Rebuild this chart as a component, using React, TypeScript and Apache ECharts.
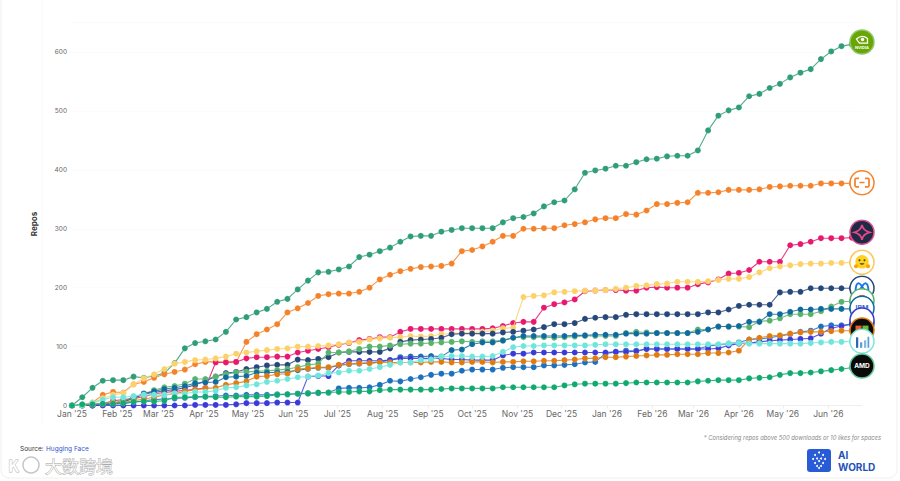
import React, { useEffect, useRef } from "react";
import * as echarts from "echarts";

const startDay = Date.UTC(2025, 0, 1);
const weekCount = 78;
const weeks: number[] = [];
for (let i = 0; i < weekCount; i++) weeks.push(startDay + i * 7 * 86400000);

const monthTicks = [
  [2025, 0], [2025, 1], [2025, 2], [2025, 3], [2025, 4], [2025, 5], [2025, 6], [2025, 7], [2025, 8],
  [2025, 9], [2025, 10], [2025, 11], [2026, 0], [2026, 1], [2026, 2], [2026, 3], [2026, 4], [2026, 5],
].map(([y, m]) => Date.UTC(y, m, 1));
const monthNames = ["Jan", "Feb", "Mar", "Apr", "May", "Jun", "Jul", "Aug", "Sep", "Oct", "Nov", "Dec"];

const nvidia = [0,14,30,42,43,43,49,47,50,55,72,97,106,109,112,125,146,150,158,164,176,181,197,212,226,227,231,236,252,256,262,268,278,287,288,288,295,298,301,301,301,301,311,318,320,326,338,345,348,367,395,399,402,407,407,413,418,419,423,424,424,433,467,492,501,506,525,529,539,546,557,565,571,588,601,610,613,617];
const alibaba = [0,1,5,18,23,22,36,40,47,53,57,61,70,74,74,74,74,108,121,129,138,158,165,174,186,189,190,190,193,200,214,222,228,232,235,236,237,241,262,264,270,278,288,288,300,300,301,301,306,308,311,316,318,318,325,324,331,342,342,344,345,361,361,362,366,366,366,367,371,372,373,373,373,377,377,377,377,378];
const pink = [0,0,1,3,8,10,12,15,20,22,24,26,27,30,73,73,74,80,82,82,83,83,90,93,96,99,103,106,111,113,116,116,125,130,130,130,130,130,130,130,130,131,135,140,142,142,166,172,175,180,194,195,196,196,195,195,200,201,200,200,200,206,209,214,224,225,230,244,244,244,272,274,278,284,284,284,285,294];
const huggingFace = [0,1,5,12,18,21,36,46,53,62,71,74,77,78,80,83,88,90,92,94,96,97,100,100,101,102,104,107,108,112,114,115,116,118,117,118,121,122,123,124,125,127,131,132,184,186,187,192,193,194,195,195,196,198,200,203,204,206,207,210,210,210,211,213,215,215,218,226,233,236,238,240,241,241,242,242,243,243];
const meta = [0,0,0,1,3,6,14,20,22,25,27,30,35,42,49,55,57,62,65,68,69,69,78,77,79,82,90,91,91,91,91,97,108,111,112,113,115,121,122,122,122,122,124,125,127,129,133,138,138,140,147,149,150,150,154,155,155,155,155,155,155,155,158,158,163,169,171,171,171,192,193,193,199,199,199,199,199,199];
const google = [0,0,1,3,5,8,12,20,26,31,33,37,45,45,49,53,56,57,58,59,60,62,65,69,71,90,90,92,96,100,100,102,104,105,105,106,107,108,109,108,109,109,111,115,116,116,116,115,116,117,118,118,118,118,123,125,124,123,123,123,123,129,129,134,134,134,133,143,144,148,155,155,155,160,168,176,177,178];
const ibm = [0,0,0,1,3,6,12,20,24,28,30,33,38,39,40,48,49,50,56,56,56,57,60,62,64,64,68,70,71,72,74,77,82,83,83,84,83,94,95,104,107,107,110,115,118,118,118,118,118,119,119,120,120,120,122,122,122,123,123,123,123,125,129,134,134,135,142,142,155,155,159,163,163,164,164,164,164,165];
const blue = [0,0,0,1,2,3,6,8,10,11,12,13,14,15,16,17,17,18,18,18,19,19,20,21,21,22,29,30,30,31,35,42,41,45,48,52,54,54,59,61,61,61,64,65,65,65,68,68,69,70,73,74,88,91,93,93,96,96,96,96,96,96,101,103,105,107,112,113,115,118,121,125,127,134,136,136,138,140];
const indigo = [0,0,0,0,0,0,0,0,0,0,0,0,1,1,1,1,2,4,4,4,5,5,5,49,50,50,68,76,76,76,76,77,80,80,80,80,80,78,78,77,77,77,85,88,88,90,90,90,90,90,90,90,90,91,91,92,96,96,96,96,96,96,96,97,102,105,106,108,110,111,112,113,114,122,131,135,138,145];
const microsoft = [0,0,2,3,4,5,8,11,14,18,20,24,27,29,30,35,38,41,49,50,53,54,62,63,65,65,69,71,72,72,73,73,73,73,73,74,74,73,73,74,74,73,74,74,75,75,76,76,77,78,80,80,82,82,83,84,85,86,86,87,87,87,89,89,90,93,112,115,118,119,122,124,125,125,126,127,127,128];
const cyan = [0,0,4,10,14,14,16,18,18,18,20,20,23,23,25,30,31,34,36,40,42,45,48,49,51,55,56,59,59,62,65,69,73,73,77,78,83,84,84,83,83,84,91,99,101,101,102,102,102,102,102,103,104,104,104,104,104,104,104,104,104,104,104,104,105,106,105,105,105,105,105,105,106,107,108,108,109,109];
const amd = [0,2,2,3,3,4,6,7,7,8,14,14,15,15,14,14,15,15,15,16,18,19,20,20,22,22,23,23,24,24,26,27,27,27,27,27,28,29,29,29,29,29,31,31,31,31,31,31,34,36,37,37,37,37,38,39,39,39,39,39,39,41,42,43,43,43,46,47,48,52,55,55,56,58,60,62,64,67];

const logo = (border: string, fill: string, inner = "") => {
  const svg = `<svg xmlns="http://www.w3.org/2000/svg" width="104" height="104" viewBox="0 0 104 104"><circle cx="52" cy="52" r="48" fill="${fill}" stroke="${border}" stroke-width="6"/>${inner}</svg>`;
  return "image://data:image/svg+xml;charset=utf-8," + encodeURIComponent(svg);
};

const logos: Record<string, string> = {
  nvidia: logo("#8ec86a", "#6aa506", `<path d="M30 40 Q52 20 74 38 L74 56 L42 56 Q34 48 30 40Z" fill="none" stroke="#fff" stroke-width="5"/><circle cx="54" cy="42" r="7" fill="#fff"/>`),
  alibaba: logo("#f5822a", "#ffffff", `<path d="M40 34 H28 Q24 34 24 40 V62 Q24 68 28 68 H40 M64 34 H76 Q80 34 80 40 V62 Q80 68 76 68 H64" fill="none" stroke="#f5822a" stroke-width="7"/><path d="M42 51 H62" stroke="#f5822a" stroke-width="6"/>`),
  pink: logo("#e0508f", "#1e2b45", `<path d="M52 22 Q56 44 82 52 Q56 58 52 82 Q48 58 22 52 Q48 44 52 22Z" fill="none" stroke="#e8468a" stroke-width="7"/>`),
  huggingFace: logo("#fbc75a", "#ffffff", `<circle cx="52" cy="50" r="27" fill="#ffd21e"/><circle cx="42" cy="44" r="4" fill="#3a3b45"/><circle cx="62" cy="44" r="4" fill="#3a3b45"/><path d="M42 56 Q52 68 62 56Z" fill="#3a3b45"/><circle cx="28" cy="68" r="8" fill="#ff9d0b"/><circle cx="76" cy="68" r="8" fill="#ff9d0b"/>`),
  meta: logo("#26477a", "#ffffff", `<path d="M26 70 Q26 32 38 32 Q48 32 66 70 M78 70 Q78 32 66 32 Q56 32 38 70" fill="none" stroke="#1877e6" stroke-width="8"/>`),
  google: logo("#57b36a", "#ffffff", `<path d="M18 50 Q52 8 86 50 L72 54 Q52 32 32 54Z" fill="#e4483a"/>`),
  ibm: logo("#0f6a9e", "#ffffff", ""),
  blue: logo("#1d6fc0", "#ffffff", ""),
  indigo: logo("#3a3ad8", "#ffffff", ""),
  microsoft: logo("#e07b10", "#0c0c0c", `<rect x="26" y="34" width="24" height="24" fill="#ef5b2b"/><rect x="54" y="34" width="24" height="24" fill="#6cbb2e"/><rect x="26" y="62" width="24" height="14" fill="#222"/>`),
  cyan: logo("#7ae6dc", "#ffffff", `<rect x="28" y="36" width="9" height="42" fill="#2f66b8"/><rect x="44" y="56" width="9" height="22" fill="#5aa0d8"/><rect x="60" y="48" width="9" height="30" fill="#86b8dc"/><rect x="74" y="34" width="7" height="44" fill="#5aa0d8"/>`),
  amd: logo("#5fc89a", "#0a0a0a", ""),
};

type Def = { name: string; values: number[]; color: string; logo: string; text?: string; textColor?: string; textSize?: number; offset?: number[] };
const seriesDefs: Def[] = [
  { name: "NVIDIA", values: nvidia, color: "#2f9e76", logo: logos.nvidia, text: "NVIDIA", textColor: "#fff", textSize: 4, offset: [0, 5] },
  { name: "Alibaba", values: alibaba, color: "#f5822a", logo: logos.alibaba },
  { name: "Tencent", values: pink, color: "#e8176f", logo: logos.pink },
  { name: "Hugging Face", values: huggingFace, color: "#fcd16a", logo: logos.huggingFace },
  { name: "Meta", values: meta, color: "#26477a", logo: logos.meta },
  { name: "Google", values: google, color: "#57b36a", logo: logos.google },
  { name: "IBM", values: ibm, color: "#0f6a9e", logo: logos.ibm, text: "IBM", textColor: "#3a6fc0", textSize: 7 },
  { name: "Blue", values: blue, color: "#1d6fc0", logo: logos.blue },
  { name: "Indigo", values: indigo, color: "#3a3ad8", logo: logos.indigo },
  { name: "Microsoft", values: microsoft, color: "#e07b10", logo: logos.microsoft },
  { name: "Cyan", values: cyan, color: "#6fe6dc", logo: logos.cyan },
  { name: "AMD", values: amd, color: "#10a96e", logo: logos.amd, text: "AMD", textColor: "#fff", textSize: 6.5 },
];

const yTop = 22.6;
const yBottom = 405.5;

export default function App() {
  const ref = useRef<HTMLDivElement>(null);
  useEffect(() => {
    const chart = echarts.init(ref.current!, undefined, { renderer: "svg" });
    const series = seriesDefs.map((d, si) => ({
      name: d.name,
      type: "line",
      z: 2 + si,
      clip: false,
      showAllSymbol: true,
      symbol: "circle",
      symbolSize: 6,
      lineStyle: { color: d.color, width: 1.1, opacity: 0.85 },
      itemStyle: { color: d.color, borderColor: "rgba(255,255,255,0.35)", borderWidth: 0.4 },
      data: d.values.map((v, i) =>
        i === d.values.length - 1
          ? {
              value: [weeks[i], v],
              symbol: d.logo,
              symbolSize: 26,
              label: d.text
                ? {
                    show: true,
                    position: "inside",
                    formatter: d.text,
                    color: d.textColor,
                    fontSize: d.textSize,
                    fontWeight: "bold",
                    fontFamily: "Inter",
                    offset: d.offset || [0, 0],
                  }
                : { show: false },
            }
          : [weeks[i], v]
      ),
    }));

    const brainDots = [
      [819, 452.5], [815, 455], [823, 455], [813, 459], [817, 458.5], [821, 458.5], [825, 459],
      [815, 463], [819, 461], [823, 463], [817, 466], [821, 466], [819, 468],
    ];

    chart.setOption({
      animation: false,
      backgroundColor: "#ffffff",
      textStyle: { fontFamily: "Inter" },
      grid: { left: 72, right: 38, top: yTop, bottom: 481 - yBottom, containLabel: false },
      xAxis: {
        type: "value",
        min: weeks[0],
        max: weeks[weekCount - 1],
        splitLine: { show: false },
        axisLine: { show: true, lineStyle: { color: "#eeeeee", width: 1 } },
        axisTick: { show: true, length: 3, lineStyle: { color: "#eeeeee" }, customValues: monthTicks },
        axisLabel: {
          color: "#666666",
          fontSize: 8.5,
          margin: 4,
          hideOverlap: false,
          customValues: monthTicks,
          formatter: (v: number) => {
            const d = new Date(v);
            return `${monthNames[d.getUTCMonth()]} '${String(d.getUTCFullYear()).slice(2)}`;
          },
        },
      },
      yAxis: {
        type: "value",
        min: 0,
        max: 650,
        interval: 100,
        axisLine: { show: false },
        axisTick: { show: false },
        splitLine: { show: true, lineStyle: { color: "#fbfbfb", width: 1 } },
        axisLabel: { color: "#666666", fontSize: 6.5, margin: 5, showMaxLabel: false },
      },
      graphic: [
        { type: "rect", silent: true, z: 0, shape: { x: 1, y: -12, width: 896, height: 490, r: 8 }, style: { fill: "none", stroke: "#f0f0f0", lineWidth: 1 } },
        { type: "line", silent: true, z: 0, shape: { x1: 42, y1: 0, x2: 42, y2: 423 }, style: { stroke: "#f7f7f7", lineWidth: 1 } },
        { type: "text", x: 34, y: 224, rotation: Math.PI / 2, style: { text: "Repos", fill: "#333333", font: "bold 8px Inter", textAlign: "center", textVerticalAlign: "middle" } },
        { type: "text", x: 881, y: 437, style: { text: "* Considering repos above 500 downloads or 10 likes for spaces", fill: "#8a8a8a", font: "italic 5.8px Inter", textAlign: "right", textVerticalAlign: "middle" } },
        { type: "rect", shape: { x: 807, y: 449, width: 24, height: 23, r: 3 }, style: { fill: "#2a5bd6" } },
        ...brainDots.map(([x, y]) => ({ type: "circle", shape: { cx: x, cy: y, r: 1 }, style: { fill: "#ffffff" } })),
        { type: "text", x: 838, y: 455, style: { text: "AI", fill: "#2452b8", font: "bold 10px Inter", textVerticalAlign: "middle" } },
        { type: "text", x: 838, y: 466.5, style: { text: "WORLD", fill: "#2452b8", font: "bold 10px Inter", textVerticalAlign: "middle" } },
        { type: "text", x: 20, y: 449, style: { text: "Source:", fill: "#333333", font: "6.5px Inter", textVerticalAlign: "middle" } },
        { type: "text", x: 46, y: 449, style: { text: "Hugging Face", fill: "#3355cc", font: "6.5px Inter", textVerticalAlign: "middle" } },
        { type: "circle", shape: { cx: 31, cy: 465, r: 8 }, style: { fill: "none", stroke: "rgba(150,150,150,0.55)", lineWidth: 1.5 } },
        { type: "text", x: 8, y: 465, style: { text: "K", fill: "rgba(255,255,255,0.9)", stroke: "rgba(140,140,140,0.7)", lineWidth: 0.8, font: "bold 16px 'Noto Sans CJK SC'", textVerticalAlign: "middle" } },
        { type: "text", x: 45, y: 465.5, style: { text: "大数跨境", fill: "rgba(255,255,255,0.75)", stroke: "rgba(130,130,130,0.7)", lineWidth: 0.8, font: "17px 'Noto Sans CJK SC'", textVerticalAlign: "middle" } },
      ],
      series,
    });
    return () => chart.dispose();
  }, []);
  return <div ref={ref} style={{ position: "fixed", left: 0, top: 0, width: 900, height: 481 }} />;
}
